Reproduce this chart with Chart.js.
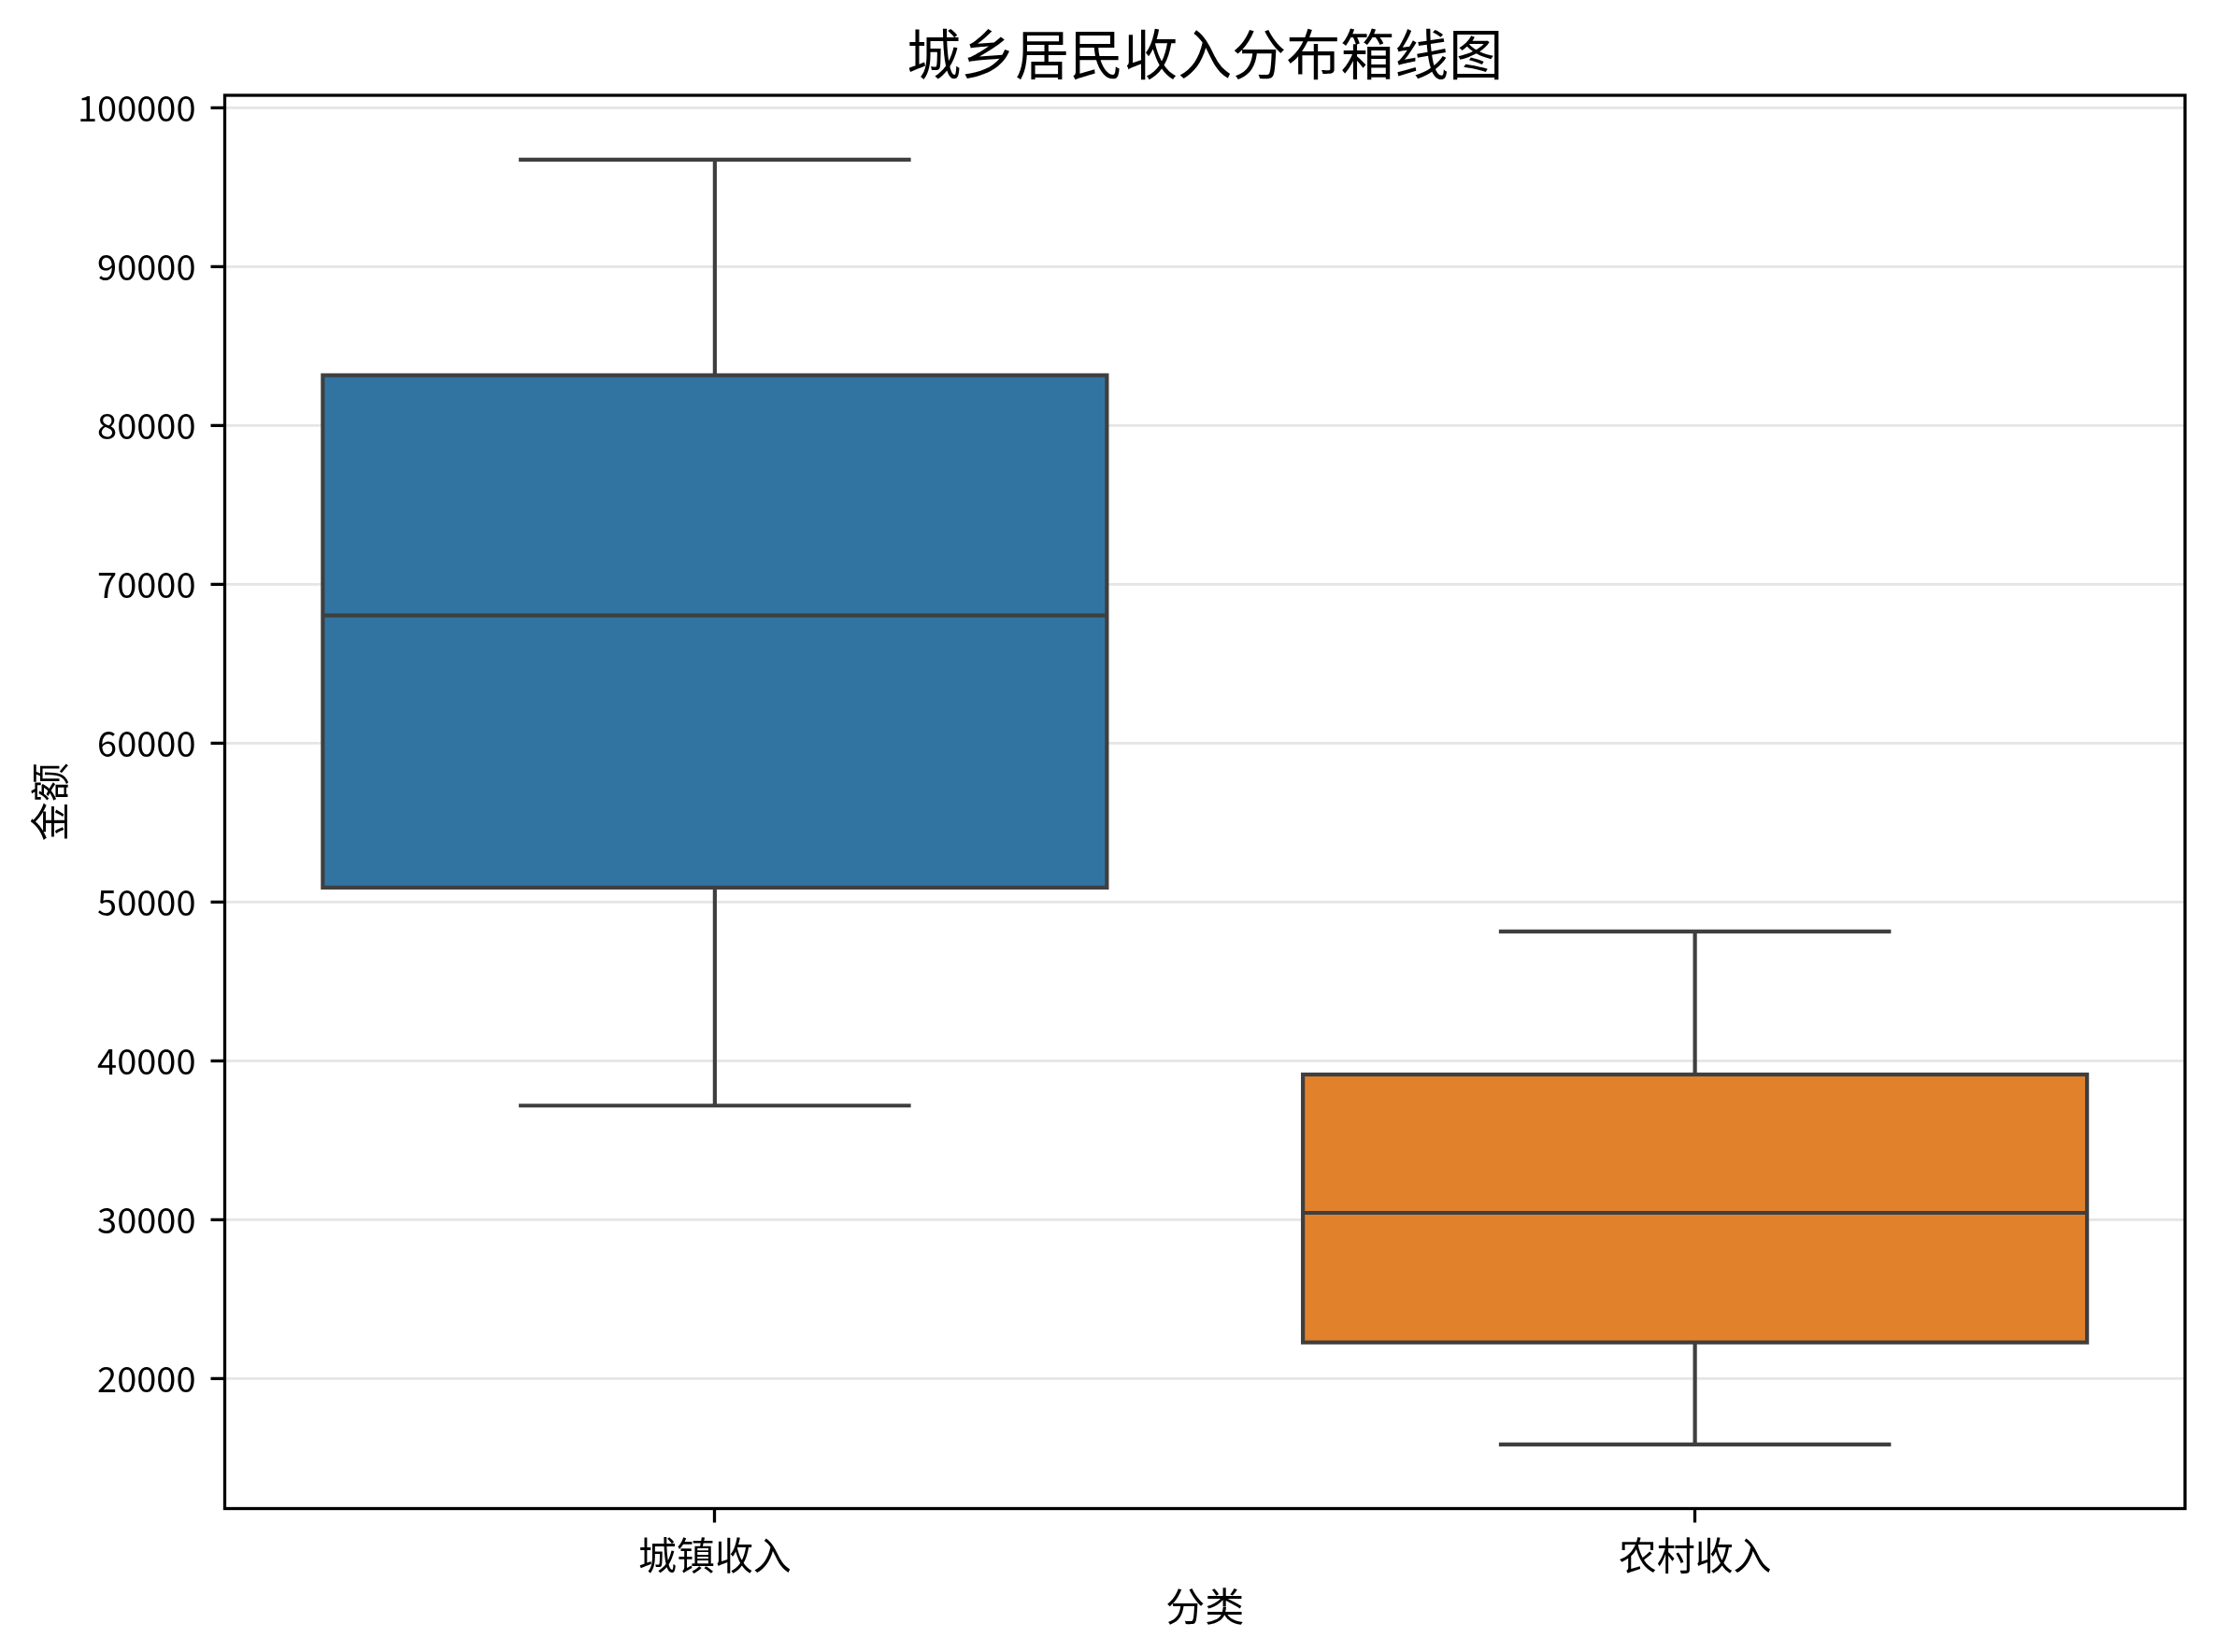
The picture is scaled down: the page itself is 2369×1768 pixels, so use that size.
<!DOCTYPE html>
<html>
<head>
<meta charset="utf-8">
<script src="https://cdn.jsdelivr.net/npm/chart.js@4.4.1/dist/chart.umd.min.js"></script>
<style>
html,body{margin:0;padding:0;background:#fff;}
#wrap{width:2369px;height:1768px;position:relative;}
canvas{display:block;}
</style>
</head>
<body>
<div id="wrap"><canvas id="c" width="2369" height="1768"></canvas></div>
<script>
// ---- data ----
const categories = ['城镇收入', '农村收入'];
const whiskerLow = [37190, 15860];
const q1Values = [50920, 22280];
const medianValues = [68060, 30440];
const q3Values = [83180, 39150];
const whiskerHigh = [96760, 48160];
const yTickValues = [20000, 30000, 40000, 50000, 60000, 70000, 80000, 90000, 100000];
const boxColors = ['#3274a1', '#e1812c'];

const FONT = "'Noto Sans CJK SC', 'Noto Sans', sans-serif";
const LINE = '#3f3f3f';
const LW = 4.2;

const boxPlugin = {
  id: 'boxParts',
  afterDatasetsDraw(chart) {
    const ctx = chart.ctx;
    const y = chart.scales.y;
    const meta = chart.getDatasetMeta(0);
    ctx.save();
    ctx.strokeStyle = LINE;
    ctx.lineWidth = LW;
    ctx.lineCap = 'butt';
    meta.data.forEach((el, i) => {
      const cx = el.x;
      const half = el.width / 2;
      const yLo = y.getPixelForValue(whiskerLow[i]);
      const yQ1 = y.getPixelForValue(q1Values[i]);
      const yMed = y.getPixelForValue(medianValues[i]);
      const yQ3 = y.getPixelForValue(q3Values[i]);
      const yHi = y.getPixelForValue(whiskerHigh[i]);
      ctx.beginPath();
      // whiskers
      ctx.moveTo(cx, yQ3); ctx.lineTo(cx, yHi);
      ctx.moveTo(cx, yQ1); ctx.lineTo(cx, yLo);
      // caps
      ctx.moveTo(cx - half / 2, yHi); ctx.lineTo(cx + half / 2, yHi);
      ctx.moveTo(cx - half / 2, yLo); ctx.lineTo(cx + half / 2, yLo);
      // median
      ctx.moveTo(cx - half, yMed); ctx.lineTo(cx + half, yMed);
      ctx.stroke();
      // box outline (centered stroke)
      ctx.strokeRect(cx - half, yQ3, half * 2, yQ1 - yQ3);
    });
    ctx.restore();
  },
  afterDraw(chart) {
    const {ctx, chartArea: a} = chart;
    ctx.save();
    ctx.strokeStyle = '#000';
    ctx.lineWidth = 3.3;
    ctx.strokeRect(a.left, a.top, a.right - a.left, a.bottom - a.top);
    ctx.restore();
  }
};

new Chart(document.getElementById('c'), {
  type: 'bar',
  data: {
    labels: categories,
    datasets: [{
      data: categories.map((c, i) => [q1Values[i], q3Values[i]]),
      backgroundColor: boxColors,
      borderWidth: 0,
      borderSkipped: false,
      barPercentage: 0.8,
      categoryPercentage: 1.0
    }]
  },
  options: {
    responsive: false,
    devicePixelRatio: 1,
    animation: false,
    layout: { padding: { left: 0, right: 31, top: 0, bottom: 0 } },
    plugins: {
      legend: { display: false },
      tooltip: { enabled: false },
      title: {
        display: true,
        text: '城乡居民收入分布箱线图',
        fullSize: false,
        color: '#000',
        font: { family: FONT, size: 58, weight: 'normal', lineHeight: 1.2 },
        padding: { top: 22.7, bottom: 9.7 }
      }
    },
    scales: {
      x: {
        type: 'category',
        offset: true,
        grid: {
          display: true,
          offset: false,
          drawOnChartArea: false,
          drawTicks: true,
          tickLength: 15,
          tickColor: '#000',
          tickWidth: 3.3
        },
        border: { display: false },
        ticks: {
          color: '#000',
          font: { family: FONT, size: 41, lineHeight: 1.2 },
          padding: 10,
          maxRotation: 0,
          autoSkip: false
        },
        title: {
          display: true,
          text: '分类',
          color: '#000',
          font: { family: FONT, size: 42, lineHeight: 1.2 },
          padding: { top: 0, bottom: 23.3 }
        },
        afterFit(scale) { scale.height = 153.5; }
      },
      y: {
        type: 'linear',
        min: 11817,
        max: 100808,
        grid: {
          color: 'rgb(229,229,229)',
          lineWidth: 2.8,
          drawTicks: true,
          tickLength: 15,
          tickColor: '#000',
          tickWidth: 3.3
        },
        border: { display: false },
        afterBuildTicks(scale) {
          scale.ticks = yTickValues.map(v => ({ value: v }));
        },
        ticks: {
          color: '#000',
          font: { family: FONT, size: 38, lineHeight: 1.2 },
          padding: 16,
          callback: (v) => String(v)
        },
        title: {
          display: true,
          text: '金额',
          color: '#000',
          font: { family: FONT, size: 42, lineHeight: 1.2 },
          padding: { top: 27.8, bottom: 0 }
        },
        afterFit(scale) { scale.width = 240.5; }
      }
    }
  },
  plugins: [boxPlugin]
});
</script>
</body>
</html>
